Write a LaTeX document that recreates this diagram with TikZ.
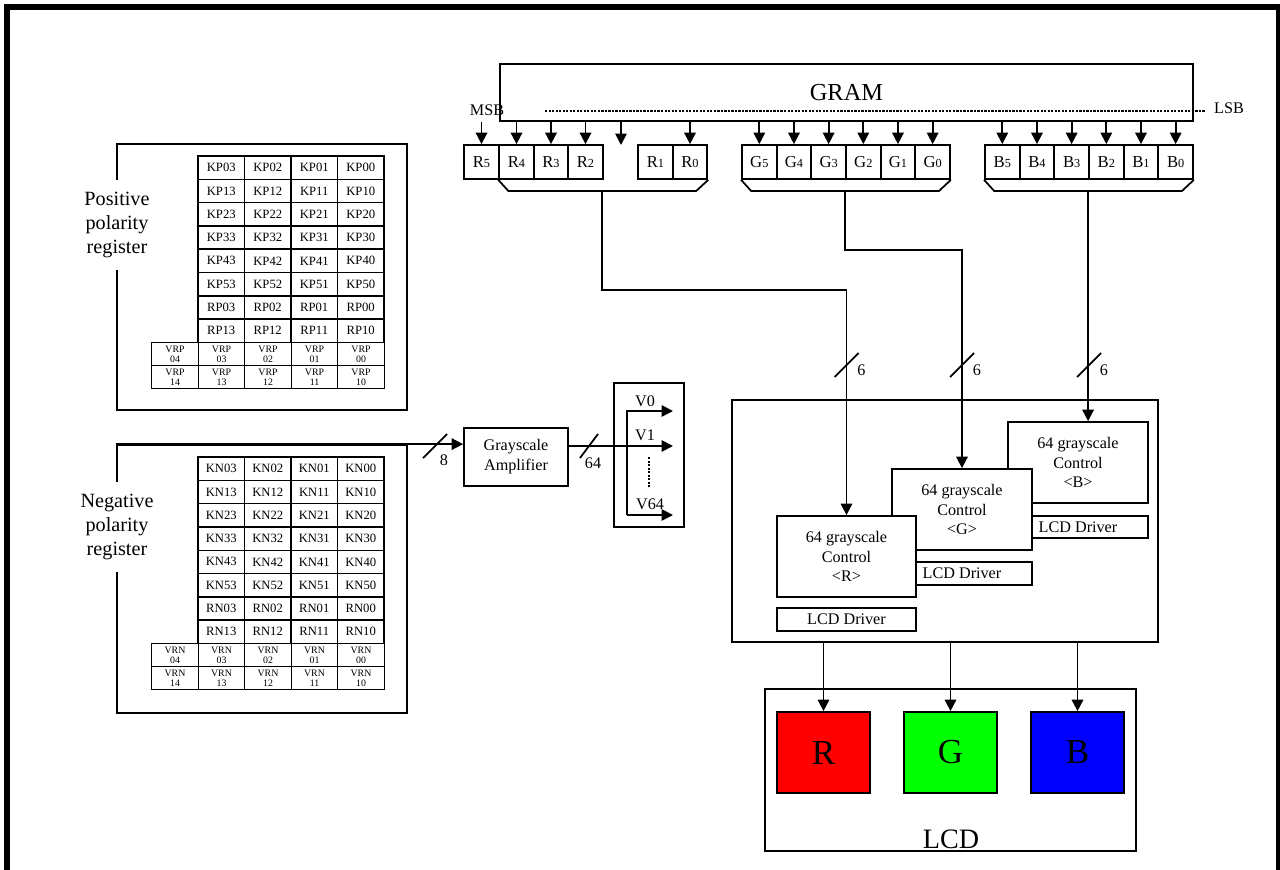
\documentclass[tikz,border=0pt]{standalone}
\usepackage{fontspec}
\setmainfont{Liberation Serif}
\definecolor{lcdred}{RGB}{255,0,0}
\definecolor{lcdgreen}{RGB}{0,255,0}
\definecolor{lcdblue}{RGB}{0,0,255}
\usetikzlibrary{arrows.meta,positioning,calc}
\newcommand{\bitlbl}[2]{#1{\fontsize{7}{7}\selectfont #2}}

\begin{document}
\begin{tikzpicture}[
  x=0.2mm, y=-0.2mm,
  regcell/.style={
    draw, line width=0.8pt,
    minimum width=9.3mm, minimum height=4.66mm,
    inner sep=0pt,
    font=\fontsize{7.2}{8}\selectfont
  },
  vcell/.style={regcell, minimum height=4.6mm, align=center,
    font=\fontsize{5.6}{5.7}\selectfont},
  bitcell/.style={draw, line width=1pt, fill=white,
    minimum width=6.93mm, minimum height=6.8mm, inner sep=0pt,
    font=\fontsize{9.5}{10}\selectfont},
  block/.style={draw, fill=white, line width=1pt, inner sep=0pt,
    align=center, font=\fontsize{9.2}{11.3}\selectfont},
  pixel/.style={draw, line width=1pt, minimum width=18.6mm,
    minimum height=16.2mm, font=\fontsize{20}{20}\selectfont},
  reglbl/.style={fill=white, align=center, inner xsep=1pt, inner ysep=2.4mm,
    font=\fontsize{11.5}{13.6}\selectfont},
  lbl/.style={font=\fontsize{9.2}{11}\selectfont, inner sep=1pt},
  wire/.style={line width=1pt},
  conn/.style={-{Triangle[length=6.5pt,width=6.5pt]}, line width=1pt},
  dots/.style={line width=1.3pt, dash pattern=on 1.3pt off 0.7pt}
]
\useasboundingbox (0,0) rectangle (1280,870);

% outer frame
\draw[line width=3.4pt] (7,890) -- (7,7) -- (1279,7) -- (1279,890);

% GRAM and bit cells
\node[draw, line width=1pt, minimum width=138.6mm, minimum height=11.4mm,
  font=\fontsize{13.9}{14}\selectfont] (gram) at (846.5,92.5) {GRAM};
\draw[dots] (545,111) -- (1205,111);
\node[lbl] (msb) at (487,110) {MSB};
\node[lbl] (lsb) at (1229,108) {LSB};

\foreach \n/\xx in {5/481.5, 4/516.5, 3/551, 2/585.5, 1/655.5, 0/690}
  \node[bitcell] (r\n) at (\xx,162) {\bitlbl{R}{\n}};
\foreach \n [count=\c from 0] in {5,4,3,2,1,0} {
  \node[bitcell] (g\n) at (759.3+34.67*\c,162) {\bitlbl{G}{\n}};
  \node[bitcell] (b\n) at (1002.3+34.67*\c,162) {\bitlbl{B}{\n}};
}
\coordinate (rgap) at (621,145);

\foreach \n in {5,4,3,2,0}
  \draw[conn] (r\n.north |- gram.south) -- (r\n.north);
\draw[conn] (rgap |- gram.south) -- (rgap);
\foreach \n in {5,4,3,2,1,0} {
  \draw[conn] (g\n.north |- gram.south) -- (g\n.north);
  \draw[conn] (b\n.north |- gram.south) -- (b\n.north);
}

% bus brackets
\draw[wire] (r4.south west) -- ++(10,11) -- ++(188,0) -- (r0.south east);
\draw[wire] (g5.south west) -- ++(10,11) -- ++(188,0) -- (g0.south east);
\draw[wire] (b5.south west) -- ++(10,11) -- ++(188,0) -- (b0.south east);
\coordinate (rbus) at ($(r4.south west)+(104,11)$);
\coordinate (gbus) at ($(g5.south west)+(104,11)$);
\coordinate (bbus) at ($(b5.south west)+(104,11)$);

% grayscale control
\node[block, minimum width=85.2mm, minimum height=48.4mm] (ctrl) at (945,521) {};
\node[block, minimum width=28mm, minimum height=16.2mm] (bctl) at (1078,462.5)
  {64 grayscale\\Control\\<B>};
\node[block, minimum width=28mm, minimum height=4.4mm] (bdrv) at (1078,527) {LCD Driver};
\node[block, minimum width=28mm, minimum height=16.2mm] (gctl) at (962,509.5)
  {64 grayscale\\Control\\<G>};
\node[block, minimum width=28mm, minimum height=4.6mm] (gdrv) at (962,573.5) {LCD Driver};
\node[block, minimum width=27.8mm, minimum height=16.2mm] (rctl) at (846.5,556.5)
  {64 grayscale\\Control\\<R>};
\node[block, minimum width=27.8mm, minimum height=4.6mm] (rdrv) at (846.5,619.5) {LCD Driver};

\draw[conn] (rbus) -- ++(0,99) -| (rctl.north);
\draw[conn] (gbus) -- ++(0,59) -| (gctl.north);
\draw[conn] (bbus) -- (bbus |- bctl.north);
\foreach \nm/\xx in {r/846.5, g/962, b/1089} {
  \draw[wire] (\xx-12,377) -- (\xx+12,353);
  \node[lbl] (six\nm) at (\xx+15,370) {6};
}

% LCD
\node[draw, line width=1pt, minimum width=74.2mm, minimum height=32.4mm] (lcd) at (950.5,770) {};
\node[pixel, fill=lcdred] (lr) at (823.5,752.5) {R};
\node[pixel, fill=lcdgreen] (lg) at (950.5,752.5) {G};
\node[pixel, fill=lcdblue] (lb) at (1077.5,752.5) {B};
\node[font=\fontsize{16}{16}\selectfont, inner sep=0pt] (lcdname) at (951,839) {LCD};
\foreach \p in {lr,lg,lb}
  \draw[conn] (\p.north |- ctrl.south) -- (\p.north);

% polarity registers
\node[draw, line width=1pt, minimum width=58mm, minimum height=53.2mm] (posbox) at (262,277) {};
\node[draw, line width=1pt, minimum width=58mm, minimum height=53.6mm] (negbox) at (262,579) {};
\node[reglbl] (poslbl) at (117,225) {Positive\\polarity\\register};
\node[reglbl] (neglbl) at (117,527) {Negative\\polarity\\register};

\foreach \p/\dy in {P/0, N/301} {
  \foreach \i in {0,...,5}
    \foreach \k [count=\c] in {3,2,1,0}
      \node[regcell] (k\p\i\k) at (174.75+46.5*\c, 167.65+23.3*\i+\dy) {K\p\i\k};
  \foreach \i in {0,1}
    \foreach \k [count=\c] in {3,2,1,0}
      \node[regcell] (r\p\i\k) at (174.75+46.5*\c, 307.45+23.3*\i+\dy) {R\p\i\k};
  \foreach \k [count=\c] in {4,3,2,1,0} {
    \node[vcell] (vr\p0\k) at (128.5+46.5*\c, 353.9+\dy) {VR\p\\0\k};
    \node[vcell] (vr\p1\k) at (128.5+46.5*\c, 376.9+\dy) {VR\p\\1\k};
  }
}

% grayscale amplifier and voltages
\node[block, minimum width=20.8mm, minimum height=11.6mm] (amp) at (516,457) {Grayscale\\Amplifier};
\node[draw, line width=1pt, minimum width=14mm, minimum height=28.8mm] (vbox) at (649,455) {};
\coordinate (v0end) at (673,411);
\coordinate (v1end) at (673,446);
\coordinate (v64end) at (673,515);
\coordinate (vtop) at (627,411);
\coordinate (vbot) at (627,515);

\draw[conn] (negbox.north west) -- (amp.west |- negbox.north);
\draw[conn] (amp.east |- v1end) -- (v1end);
\draw[conn] (vbot) -- (vtop) -- (v0end);
\draw[conn] (vbot) -- (v64end);
\draw[dots] (649,457) -- (649,487);

\draw[wire] (423,458) -- (447,434);
\node[lbl] (eight) at (444,460) {8};
\draw[wire] (580,458) -- (598,434);
\node[lbl] (sixtyfour) at (593,463) {64};
\node[lbl] (v0) at (645,401) {V0};
\node[lbl] (v1) at (645,435) {V1};
\node[lbl] (v64) at (650,504) {V64};
\end{tikzpicture}
\end{document}
